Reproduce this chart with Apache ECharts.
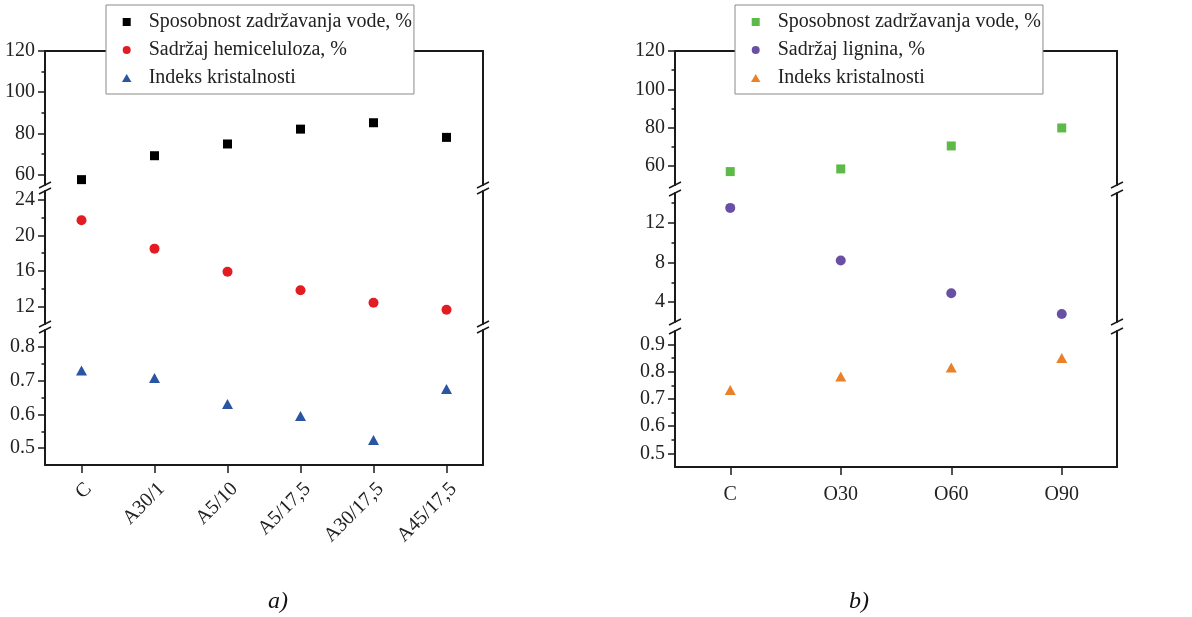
<!DOCTYPE html>
<html>
<head>
<meta charset="utf-8">
<script src="https://cdn.jsdelivr.net/npm/echarts@6/dist/echarts.min.js"></script>
<style>html,body{margin:0;padding:0;background:#fff}#main{width:1192px;height:617px}</style>
</head>
<body>
<div id="main"></div>
<script>
// podaci - panel a)
var catA = ['C', 'A30/1', 'A5/10', 'A5/17,5', 'A30/17,5', 'A45/17,5'];
var vodaA = [57.6, 69.2, 74.9, 82.1, 85.2, 78.1];
var hemiA = [21.7, 18.5, 15.9, 13.8, 12.4, 11.6];
var kristA = [0.730, 0.708, 0.631, 0.595, 0.524, 0.675];
// podaci - panel b)
var catB = ['C', 'O30', 'O60', 'O90'];
var vodaB = [57.0, 58.4, 70.4, 79.8];
var ligB = [13.5, 8.2, 4.9, 2.8];
var kristB = [0.733, 0.783, 0.816, 0.851];
// opsezi i podeoci (gornji, srednji, donji deo ose)
var rangeA = [[55, 120], [10, 25], [0.45, 0.85]];
var ticksA = [[60, 80, 100, 120], [12, 16, 20, 24], [0.5, 0.6, 0.7, 0.8]];
var minorA = [[70, 90, 110], [14, 18, 22], [0.55, 0.65, 0.75]];
var rangeB = [[50, 120], [2, 15], [0.45, 0.95]];
var ticksB = [[60, 80, 100, 120], [4, 8, 12], [0.5, 0.6, 0.7, 0.8, 0.9]];
var minorB = [[70, 90, 110], [6, 10, 14], [0.55, 0.65, 0.75, 0.85]];

var nVoda = 'Sposobnost zadržavanja vode, %';
var nHemi = 'Sadržaj hemiceluloza, %';
var nLig = 'Sadržaj lignina, %';
var nKrist = 'Indeks kristalnosti';

var font = 'Liberation Serif';
var axisCol = '#1a1a1a';
var txtCol = '#222';
// ikone legende (path da bi zadrzale proporcije)
var iconKv = 'path://M0,0L10,0L10,10L0,10Z';
var iconTr = 'path://M5,0L10,8.5L0,8.5Z';

var myChart = echarts.init(document.getElementById('main'));
var option = {
  animation: false,
  backgroundColor: '#fff',
  grid: [], xAxis: [], yAxis: [], series: [], legend: [], graphic: []
};

function brk(x, y) {
  option.graphic.push({
    type: 'line', shape: {x1: x - 6, y1: y + 3, x2: x + 6, y2: y - 3},
    style: {stroke: axisCol, lineWidth: 1.5}
  });
}

// jedan panel = tri grida sa prekinutom osom
function panel(left, width, segs, cats, ranges, ticks, minors, rotate, lblMargin, ser) {
  for (var i = 0; i < segs.length; i++) {
    var g = option.grid.length;
    var last = (i == segs.length - 1);
    option.grid.push({left: left, top: segs[i][0], width: width, height: segs[i][1], outerBoundsMode: 'none', containLabel: false});
    var xi = option.xAxis.length;
    option.xAxis.push({
      type: 'category', gridIndex: g, data: cats, boundaryGap: true,
      axisLine: {show: last, onZero: false, lineStyle: {color: axisCol, width: 2}},
      axisTick: {show: last, alignWithLabel: true, length: 8, lineStyle: {color: axisCol, width: 1.5}},
      axisLabel: {show: last, rotate: rotate, margin: lblMargin, verticalAlign: 'top',
        fontSize: 20, fontFamily: font, color: txtCol},
      splitLine: {show: false}
    });
    if (i == 0) {
      option.xAxis.push({
        type: 'category', gridIndex: g, data: cats, position: 'top',
        axisLine: {show: true, onZero: false, lineStyle: {color: axisCol, width: 2}},
        axisTick: {show: false}, axisLabel: {show: false}, splitLine: {show: false}
      });
    }
    var yi = option.yAxis.length;
    option.yAxis.push({
      type: 'value', gridIndex: g, min: ranges[i][0], max: ranges[i][1], position: 'left',
      axisLine: {show: true, lineStyle: {color: axisCol, width: 2}},
      axisTick: {show: true, customValues: ticks[i], length: 7, lineStyle: {color: axisCol, width: 1.5}},
      axisLabel: {show: true, customValues: ticks[i], margin: 10, fontSize: 20, fontFamily: font, color: txtCol},
      splitLine: {show: false}
    });
    option.yAxis.push({
      type: 'value', gridIndex: g, min: ranges[i][0], max: ranges[i][1], position: 'left',
      axisLine: {show: false},
      axisTick: {show: true, customValues: minors[i], length: 3.5, lineStyle: {color: axisCol, width: 1.5}},
      axisLabel: {show: false}, splitLine: {show: false}
    });
    option.yAxis.push({
      type: 'value', gridIndex: g, min: ranges[i][0], max: ranges[i][1], position: 'right',
      axisLine: {show: true, lineStyle: {color: axisCol, width: 2}},
      axisTick: {show: false}, axisLabel: {show: false}, splitLine: {show: false}
    });
    var s = ser[i];
    option.series.push({
      type: 'scatter', name: s.name, xAxisIndex: xi, yAxisIndex: yi,
      data: s.data, symbol: s.symbol, symbolSize: s.size,
      itemStyle: {color: s.color, opacity: 1}
    });
    // oznake prekida ose
    if (!last) {
      var yb = segs[i][0] + segs[i][1];
      var yt = segs[i + 1][0];
      brk(left, yb); brk(left, yt);
      brk(left + width, yb); brk(left + width, yt);
    }
  }
}

panel(45, 438, [[51, 134], [191, 133], [330, 135]], catA, rangeA, ticksA, minorA, 45, 14, [
  {name: nVoda, data: vodaA, symbol: 'rect', size: 9, color: '#000000'},
  {name: nHemi, data: hemiA, symbol: 'circle', size: 10, color: '#e31b23'},
  {name: nKrist, data: kristA, symbol: 'triangle', size: [11, 10], color: '#2a55a3'}
]);
panel(675, 442, [[51, 134], [193, 129], [331, 136]], catB, rangeB, ticksB, minorB, 0, 18, [
  {name: nVoda, data: vodaB, symbol: 'rect', size: 9, color: '#5dba48'},
  {name: nLig, data: ligB, symbol: 'circle', size: 10, color: '#6a50a5'},
  {name: nKrist, data: kristB, symbol: 'triangle', size: [11, 10], color: '#ea8128'}
]);

function legend(left, items) {
  return {
    orient: 'vertical', left: left, top: 5,
    backgroundColor: '#fff', borderColor: '#8a8a8a', borderWidth: 1,
    padding: [7, 2, 6, 16], itemGap: 8, itemWidth: 34, itemHeight: 8,
    symbolKeepAspect: true,
    textStyle: {fontSize: 20, fontFamily: font, color: txtCol},
    selectedMode: false, z: 10,
    data: items
  };
}
option.legend.push(legend(106, [
  {name: nVoda, icon: iconKv, itemStyle: {color: '#000000'}},
  {name: nHemi, icon: 'circle', itemStyle: {color: '#e31b23'}},
  {name: nKrist, icon: iconTr, itemStyle: {color: '#2a55a3'}}
]));
option.legend.push(legend(735, [
  {name: nVoda, icon: iconKv, itemStyle: {color: '#5dba48'}},
  {name: nLig, icon: 'circle', itemStyle: {color: '#6a50a5'}},
  {name: nKrist, icon: iconTr, itemStyle: {color: '#ea8128'}}
]));

// oznake panela
option.graphic.push({type: 'text', left: 268, top: 590, style: {text: 'a)', font: 'italic 24px "Liberation Serif"', fill: '#111'}});
option.graphic.push({type: 'text', left: 849, top: 590, style: {text: 'b)', font: 'italic 24px "Liberation Serif"', fill: '#111'}});

myChart.setOption(option);
</script>
</body>
</html>
